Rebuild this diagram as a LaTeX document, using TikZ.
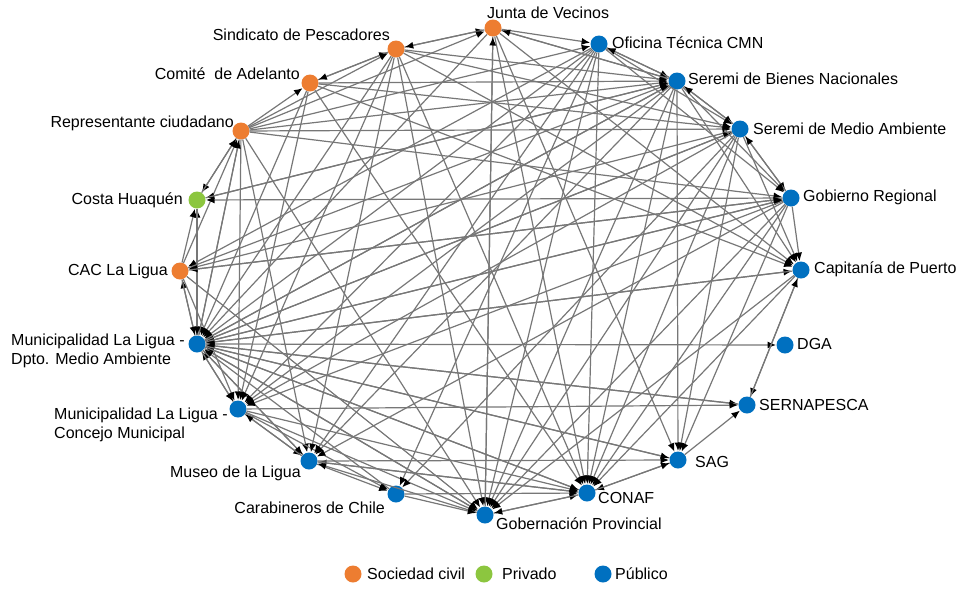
\documentclass[tikz,border=0pt]{standalone}
\usepackage{fontspec}
\setmainfont{Liberation Sans}
\usetikzlibrary{arrows.meta}
\definecolor{civ}{HTML}{ED7D31}
\definecolor{pri}{HTML}{8CC63F}
\definecolor{pub}{HTML}{0070C0}
\definecolor{edgegray}{HTML}{777777}
\tikzset{
  dot/.style={circle,inner sep=0pt,minimum size=17pt,draw=none},
  civdot/.style={dot,fill=civ},
  pridot/.style={dot,fill=pri},
  pubdot/.style={dot,fill=pub},
  lab/.style={inner sep=0pt,font=\fontsize{16}{19}\selectfont},
  edge/.style={edgegray,line width=1.2pt,-{Latex[black,length=8.5pt,width=7pt]},shorten >=0.3pt},
}
\begin{document}
\begin{tikzpicture}[x=1pt,y=-1pt]
\useasboundingbox (0,0) rectangle (962,590);
% nodes
\node[civdot] (jv) at (493,28) {};
\node[civdot] (sp) at (396,49) {};
\node[civdot] (ca) at (310,83) {};
\node[civdot] (rc) at (241,131) {};
\node[pridot] (ch) at (197,200) {};
\node[civdot] (cac) at (180,271) {};
\node[pubdot] (mma) at (197,344) {};
\node[pubdot] (mcm) at (238,409) {};
\node[pubdot] (mus) at (309,461) {};
\node[pubdot] (car) at (396,494) {};
\node[pubdot] (gp) at (485,515) {};
\node[pubdot] (conaf) at (587,493) {};
\node[pubdot] (sag) at (678,460) {};
\node[pubdot] (sern) at (747,405) {};
\node[pubdot] (dga) at (785,345) {};
\node[pubdot] (cp) at (801,270) {};
\node[pubdot] (gr) at (791,198) {};
\node[pubdot] (sma) at (740,129) {};
\node[pubdot] (sbn) at (677,81) {};
\node[pubdot] (otc) at (599,44) {};
% edges
\foreach \a/\b in {
 sp/jv, jv/sp, ca/sp, sp/ca, rc/ca, rc/jv, rc/sp, rc/sma, rc/sbn, rc/otc,
 rc/gr, rc/ch, rc/mma, rc/mcm, rc/mus, rc/gp, ch/rc, cac/rc, mma/rc,
 cac/ch, mma/ch, sbn/ch, gr/ch, ch/mma, mma/cac, cac/mma, sma/cac, gr/cac,
 otc/cac, cac/mcm, cac/gp, cac/sbn, mma/dga, mma/cp, cp/mma, gr/mma,
 sma/mma, sbn/mma, otc/mma, jv/mma, sp/mma, ca/mma, mma/sern, sern/mma,
 sag/mma, conaf/mma, gp/mma, mma/gp, car/mma, mus/mma, mcm/mma, mma/mcm,
 mma/sma, mma/sbn, mma/gr, mma/sag, mma/conaf, mma/mus, mcm/mus, mus/mcm,
 sbn/mcm, sma/mcm, gr/mcm, otc/mcm, sp/mcm, ca/mcm, mcm/sern, mcm/car,
 mcm/gp, mus/car, gp/mus, conaf/mus, otc/mus, sbn/mus, sp/mus, car/gp,
 otc/car, sma/car, gp/conaf, conaf/gp, sag/conaf, conaf/sag, sag/sern,
 jv/gp, sp/gp, otc/gp, sbn/gp, sma/gp, gr/gp, cp/gp, sp/conaf, jv/conaf,
 otc/conaf, sbn/conaf, sma/conaf, gr/conaf, cp/conaf, ca/conaf, jv/sag,
 sbn/sag, sma/sag, gr/sag, cp/sern, sern/cp, gr/cp, sma/cp, sbn/cp, jv/cp,
 sp/cp, ca/cp, sma/gr, gr/sma, sbn/gr, otc/gr, sbn/sma, sma/sbn, otc/sma,
 otc/sbn, sbn/otc, jv/otc, ca/sbn, sp/sbn, jv/sbn, sbn/jv, ca/sma, sp/sma,
 cac/gr, ch/sbn, gr/mus, mus/sag, mus/conaf, car/conaf, mcm/conaf, gp/jv}
 \draw[edge] (\a) -- (\b);
% labels
\node[lab,anchor=west] (ljv) at (487,13) {Junta de Vecinos};
\node[lab,anchor=east] (lsp) at (390,35) {Sindicato de Pescadores};
\node[lab,anchor=east] (lca) at (300,74) {Comité\ \ de Adelanto};
\node[lab,anchor=east] (lrc) at (234,123) {Representante ciudadano};
\node[lab,anchor=east] (lch) at (183,200) {Costa Huaquén};
\node[lab,anchor=east] (lcac) at (168,271) {CAC La Ligua};
\node[lab,anchor=north west,align=left] (lmma) at (11,334) {Municipalidad La Ligua -\\Dpto. Medio Ambiente};
\node[lab,anchor=north west,align=left] (lmcm) at (54,408) {Municipalidad La Ligua -\\Concejo Municipal};
\node[lab,anchor=east] (lmus) at (301,473) {Museo de la Ligua};
\node[lab,anchor=east] (lcar) at (385,508) {Carabineros de Chile};
\node[lab,anchor=west] (lgp) at (496,524) {Gobernación Provincial};
\node[lab,anchor=west] (lconaf) at (598,498) {CONAF};
\node[lab,anchor=west] (lsag) at (695,462) {SAG};
\node[lab,anchor=west] (lsern) at (759,405) {SERNAPESCA};
\node[lab,anchor=west] (ldga) at (797,344) {DGA};
\node[lab,anchor=west] (lcp) at (814,269) {Capitanía de Puerto};
\node[lab,anchor=west] (lgr) at (803,197) {Gobierno Regional};
\node[lab,anchor=west] (lsma) at (753,129) {Seremi de Medio Ambiente};
\node[lab,anchor=west] (lsbn) at (688,79) {Seremi de Bienes Nacionales};
\node[lab,anchor=west] (lotc) at (612,43) {Oficina Técnica CMN};
% legend
\node[civdot] (gciv) at (353,574) {};
\node[lab,anchor=west] (tciv) at (367,574) {Sociedad civil};
\node[pridot] (gpri) at (484,574) {};
\node[lab,anchor=west] (tpri) at (502,574) {Privado};
\node[pubdot] (gpub) at (603,574) {};
\node[lab,anchor=west] (tpub) at (615,574) {Público};
\end{tikzpicture}
\end{document}
